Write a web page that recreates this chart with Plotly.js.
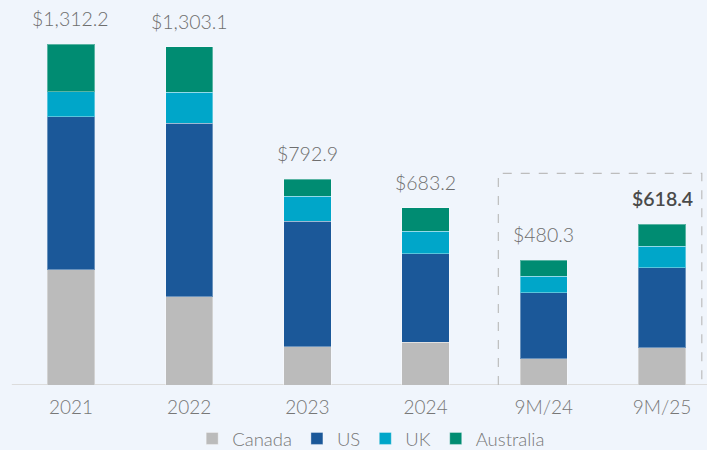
<!DOCTYPE html>
<html>
<head>
<meta charset="utf-8">
<script src="https://cdn.plot.ly/plotly-3.0.1.min.js"></script>
<style>html,body{margin:0;padding:0;background:#F0F5FC;}#chart{width:707px;height:450px;}</style>
</head>
<body>
<div id="chart"></div>
<script>
var categories = ["2021", "2022", "2023", "2024", "9M/24", "9M/25"];
var canada    = [443.0, 340.0, 146.4, 164.5, 101.3, 143.7];
var us        = [590.5, 668.0, 484.2, 341.3, 254.3, 308.2];
var uk        = [96.3, 119.5, 96.3, 87.4, 63.1, 82.4];
var australia = [182.4, 175.6, 66.0, 90.0, 61.6, 84.1];
var totals    = [1312.2, 1303.1, 792.9, 683.2, 480.3, 618.4];
var totalLabels = ["$1,312.2", "$1,303.1", "$792.9", "$683.2", "$480.3", "$618.4"];

var FONT = "Lato, 'Open Sans', sans-serif";
var edge = {color: "rgba(255,255,255,0.35)", width: 1};
function series(name, vals, color) {
  return {type: "bar", name: name, x: categories, y: vals, width: 0.4,
    marker: {color: color, line: edge}, hoverinfo: "x+y+name"};
}
var data = [
  series("Canada", canada, "#BBBBBB"),
  series("US", us, "#1B5899"),
  series("UK", uk, "#00A6C9"),
  series("Australia", australia, "#008C72")
];

var annotations = categories.map(function (c, i) {
  var last = i === categories.length - 1;
  return {x: i, y: totals[i], xref: "x", yref: "y", text: totalLabels[i],
    showarrow: false, yanchor: "bottom", yshift: 12,
    font: {family: FONT, size: 19.5, weight: last ? 600 : 300, color: last ? "#4a4a4a" : "#6e6e6e"}};
});

var layout = {
  width: 707, height: 450,
  paper_bgcolor: "#F0F5FC", plot_bgcolor: "#F0F5FC",
  barmode: "stack",
  margin: {l: 0, r: 0, t: 0, b: 65, autoexpand: false},
  xaxis: {type: "category", range: [-0.6, 5.38], showline: false, showgrid: false, zeroline: false,
    ticks: "", ticklabelstandoff: 9,
    tickfont: {family: FONT, size: 19, weight: 300, color: "#777777"}, fixedrange: true},
  yaxis: {range: [0, 1483], visible: false, showgrid: false, zeroline: false, fixedrange: true},
  showlegend: true,
  legend: {orientation: "h", x: 0.525, xanchor: "center", y: -0.14, yanchor: "middle", itemwidth: 30,
    font: {family: FONT, size: 18.5, weight: 300, color: "#777777"}, bgcolor: "rgba(0,0,0,0)", traceorder: "normal"},
  annotations: annotations,
  shapes: [
    {type: "line", xref: "x", yref: "y", x0: -0.5, x1: 5.38, y0: 0, y1: 0, layer: "below",
      line: {color: "#DCDCDC", width: 2}},
    {type: "path", xref: "x", yref: "y", layer: "below",
      path: "M 3.615 0 L 3.615 815 L 5.336 815 L 5.336 0",
      line: {color: "#BDBDBD", width: 1.2, dash: "dash"}}
  ]
};

Plotly.newPlot("chart", data, layout, {displayModeBar: false, staticPlot: true});
</script>
</body>
</html>
